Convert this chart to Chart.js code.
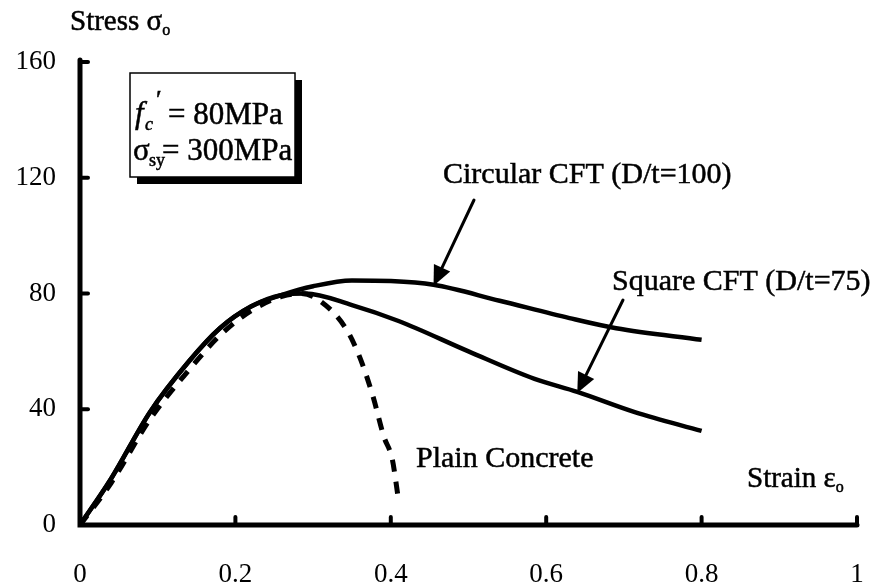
<!DOCTYPE html>
<html>
<head>
<meta charset="utf-8">
<script src="https://cdn.jsdelivr.net/npm/chart.js@4.4.0/dist/chart.umd.min.js"></script>
<style>
  html, body { margin: 0; padding: 0; background: #fff; }
  #wrap { width: 875px; height: 584px; }
</style>
</head>
<body>
<div id="wrap"><canvas id="chart"></canvas></div>
<script>
// values (strain, stress)
const circularX = [0, 0.04, 0.09, 0.14, 0.18, 0.22, 0.26, 0.30, 0.35, 0.40, 0.455, 0.54, 0.63, 0.69, 0.80];
const circularY = [0, 16, 39, 56.5, 68, 75.5, 79.5, 82.5, 84.5, 84.3, 83, 77.5, 71.5, 68, 64];

const squareX = [0, 0.04, 0.09, 0.14, 0.18, 0.22, 0.26, 0.29, 0.35, 0.41, 0.50, 0.585, 0.64, 0.714, 0.80];
const squareY = [0, 16, 39, 56.5, 68, 75.5, 79.5, 80, 76, 70.5, 60, 50.5, 46, 39, 32.5];

const plainX = [0, 0.04, 0.09, 0.14, 0.18, 0.22, 0.26, 0.285, 0.306, 0.342, 0.36, 0.377, 0.391, 0.402, 0.41];
const plainY = [0, 14.5, 36.5, 53.5, 65.5, 74, 79, 80, 78, 68, 58, 44.5, 30.6, 22.6, 8.5];

const xTicks = [0, 0.2, 0.4, 0.6, 0.8, 1];
const yTicks = [0, 40, 80, 120, 160];

const FONT = "Liberation Serif";

function pts(xs, ys) {
    return xs.map((x, i) => ({ x: x, y: ys[i] }));
}

// inward tick marks, labels, box and arrows
const decor = {
    id: "decor",
    afterDraw(chart) {
        const ctx = chart.ctx;
        const xs = chart.scales.x;
        const ys = chart.scales.y;
        const X = v => xs.getPixelForValue(v);
        const Y = v => ys.getPixelForValue(v);

        ctx.save();
        ctx.strokeStyle = "#000";
        ctx.fillStyle = "#000";
        ctx.lineCap = "round";

        // axis lines
        ctx.lineWidth = 5;
        ctx.beginPath();
        ctx.moveTo(X(0), Y(160) - 2);
        ctx.lineTo(X(0), Y(0));
        ctx.lineTo(X(1), Y(0));
        ctx.stroke();

        // tick marks pointing into the plot
        ctx.lineWidth = 4;
        xTicks.slice(1).forEach(v => {
            ctx.beginPath();
            ctx.moveTo(X(v), Y(0));
            ctx.lineTo(X(v), Y(0) - 8);
            ctx.stroke();
        });
        yTicks.slice(1).forEach(v => {
            ctx.beginPath();
            ctx.moveTo(X(0), Y(v));
            ctx.lineTo(X(0) + 8, Y(v));
            ctx.stroke();
        });

        // text helper: a light stroke makes it look like the heavy scan
        function txt(s, x, y, font) {
            ctx.font = font;
            ctx.fillText(s, x, y);
            ctx.lineWidth = 0.5;
            ctx.strokeText(s, x, y);
            return ctx.measureText(s).width;
        }

        ctx.textBaseline = "alphabetic";
        ctx.textAlign = "left";

        // axis titles
        let w = txt("Stress σ", 70, 30, "29px '" + FONT + "'");
        txt("o", 70 + w, 35, "16px '" + FONT + "'");

        w = txt("Strain ε", 747, 487, "29px '" + FONT + "'");
        txt("o", 747 + w, 492, "16px '" + FONT + "'");

        // curve labels
        txt("Circular CFT (D/t=100)", 443, 183, "30px '" + FONT + "'");
        txt("Square CFT (D/t=75)", 612, 290, "30px '" + FONT + "'");
        txt("Plain Concrete", 416, 467, "30px '" + FONT + "'");

        // arrows
        function arrow(x1, y1, x2, y2) {
            const a = Math.atan2(y2 - y1, x2 - x1);
            const hl = 20, hw = 9;
            const bx = x2 - hl * Math.cos(a), by = y2 - hl * Math.sin(a);
            ctx.lineWidth = 3;
            ctx.beginPath();
            ctx.moveTo(x1, y1);
            ctx.lineTo(bx, by);
            ctx.stroke();
            ctx.beginPath();
            ctx.moveTo(x2, y2);
            ctx.lineTo(bx + hw * Math.sin(a), by - hw * Math.cos(a));
            ctx.lineTo(bx - hw * Math.sin(a), by + hw * Math.cos(a));
            ctx.closePath();
            ctx.fill();
        }
        arrow(474, 200, X(0.455), Y(83) + 1);
        arrow(623, 300, X(0.64), Y(46) + 1);

        // parameter box with drop shadow
        const bx = 130, by = 73, bw = 165, bh = 104;
        ctx.fillRect(bx + 7, by + 7, bw, bh);
        ctx.fillStyle = "#fff";
        ctx.fillRect(bx, by, bw, bh);
        ctx.fillStyle = "#000";
        ctx.lineWidth = 1.5;
        ctx.strokeRect(bx, by, bw, bh);

        txt("f", 135, 123, "italic 31px '" + FONT + "'");
        txt("c", 145, 130, "italic 18px '" + FONT + "'");
        txt("\u2032", 156, 108, "26px '" + FONT + "'");
        txt("= 80MPa", 168, 124, "31px '" + FONT + "'");

        txt("σ", 133, 160, "31px '" + FONT + "'");
        txt("sy", 149, 166, "18px '" + FONT + "'");
        txt("= 300MPa", 162, 160, "31px '" + FONT + "'");

        ctx.restore();
    }
};

const chart = new Chart(document.getElementById("chart"), {
    type: "scatter",
    data: {
        datasets: [
            {
                label: "Circular CFT (D/t=100)",
                data: pts(circularX, circularY),
                showLine: true,
                borderColor: "#000",
                borderWidth: 4.5,
                pointRadius: 0,
                cubicInterpolationMode: "monotone"
            },
            {
                label: "Square CFT (D/t=75)",
                data: pts(squareX, squareY),
                showLine: true,
                borderColor: "#000",
                borderWidth: 4.5,
                pointRadius: 0,
                cubicInterpolationMode: "monotone"
            },
            {
                label: "Plain Concrete",
                data: pts(plainX, plainY),
                showLine: true,
                borderColor: "#000",
                borderWidth: 5,
                borderDash: [12, 10],
                pointRadius: 0,
                cubicInterpolationMode: "monotone"
            }
        ]
    },
    options: {
        responsive: true,
        maintainAspectRatio: false,
        animation: false,
        layout: { padding: { left: 0, right: 18, top: 62, bottom: 0 } },
        plugins: {
            legend: { display: false },
            tooltip: { enabled: false }
        },
        scales: {
            x: {
                type: "linear",
                min: 0,
                max: 1,
                afterBuildTicks: s => { s.ticks = xTicks.map(v => ({ value: v })); },
                afterFit: s => { s.height = 59; s.paddingRight = 0; s.paddingLeft = 0; },
                grid: { display: false, drawTicks: false },
                border: { display: false },
                ticks: {
                    color: "#000",
                    padding: 34,
                    font: { family: FONT, size: 27 },
                    callback: v => String(v)
                }
            },
            y: {
                type: "linear",
                min: 0,
                max: 160,
                afterBuildTicks: s => { s.ticks = yTicks.map(v => ({ value: v })); },
                afterFit: s => { s.width = 80; s.paddingTop = 0; s.paddingBottom = 0; },
                grid: { display: false, drawTicks: false },
                border: { display: false },
                ticks: {
                    color: "#000",
                    padding: 24,
                    font: { family: FONT, size: 27 },
                    callback: v => String(v)
                }
            }
        }
    },
    plugins: [decor]
});
</script>
</body>
</html>
